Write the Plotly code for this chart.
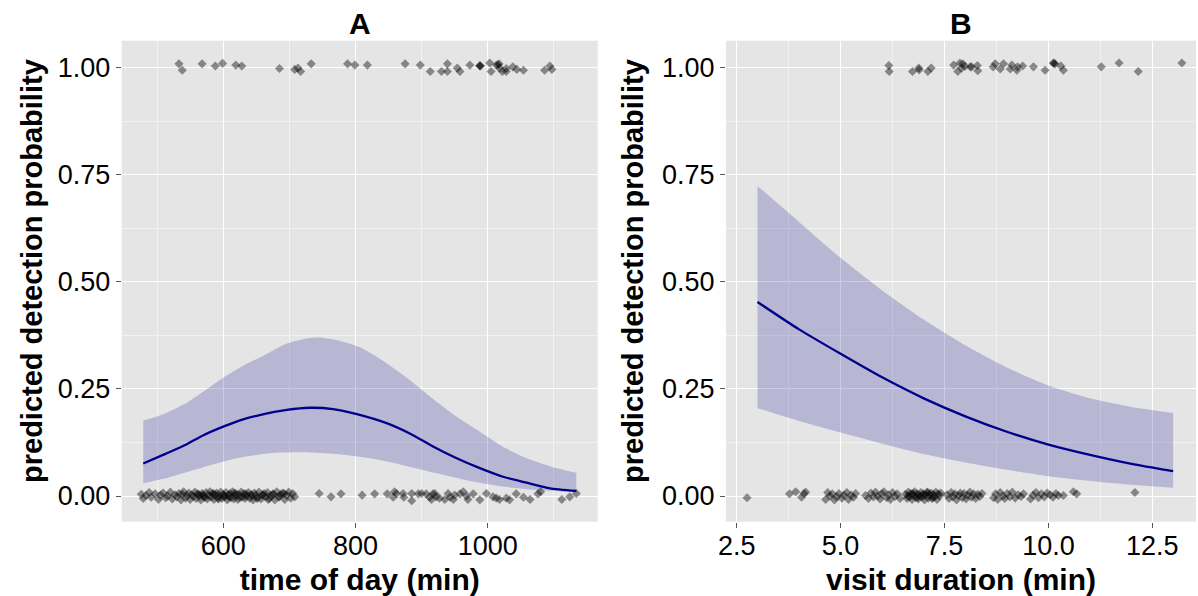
import plotly.graph_objects as go

# ---------------- Panel A data (time of day) ----------------
a_x = [479, 509, 545, 570, 600, 630, 655, 696, 731, 766, 802, 847, 882, 918, 953, 988, 1023, 1059, 1094, 1134]
a_fit = [0.076, 0.096, 0.121, 0.142, 0.162, 0.179, 0.189, 0.201, 0.206, 0.203, 0.191, 0.170, 0.146, 0.115, 0.088, 0.065, 0.045, 0.031, 0.018, 0.012]
a_up_x = [479, 509, 545, 570, 600, 630, 660, 696, 726, 746, 771, 807, 847, 882, 918, 953, 988, 1023, 1059, 1099, 1134]
a_up = [0.176, 0.191, 0.218, 0.244, 0.276, 0.304, 0.327, 0.356, 0.368, 0.370, 0.364, 0.347, 0.310, 0.271, 0.226, 0.185, 0.150, 0.115, 0.088, 0.067, 0.054]
a_lo_x = [479, 519, 570, 620, 671, 721, 771, 822, 872, 923, 973, 1023, 1074, 1134]
a_lo = [0.030, 0.044, 0.067, 0.088, 0.100, 0.102, 0.098, 0.088, 0.072, 0.053, 0.035, 0.022, 0.014, 0.009]

a_pts_one = [(533, 1.009), (538, 0.994), (568, 1.009), (588, 1.004), (599, 1.010), (619, 1.006),
             (628, 1.004), (685, 0.998), (708, 0.996), (713, 0.999), (717, 0.991), (733, 1.009),
             (788, 1.009), (799, 1.006), (818, 1.006), (875, 1.009), (898, 1.006), (913, 0.991),
             (930, 0.991), (939, 0.991), (939, 1.009), (954, 0.999), (958, 0.991), (973, 1.006),
             (988, 1.004), (989, 1.004), (988, 1.005), (1003, 1.011), (1005, 0.991), (1013, 1.006),
             (1017, 1.009), (1018, 0.999), (1016, 1.007), (1022, 0.991), (1028, 0.991), (1028, 0.998),
             (1038, 1.002), (1044, 0.996), (1054, 0.994), (1086, 0.994), (1094, 1.004), (1097, 0.996)]

a_pts_zero = [(476, 0.004), (479, -0.006), (483, 0.001), (488, 0.008), (491, -0.003), (497, 0.005),
              (502, -0.008), (505, 0.002), (509, 0.007), (513, -0.004), (516, 0.000), (520, 0.009),
              (523, -0.007), (527, 0.003), (530, -0.002), (533, 0.006), (536, -0.009), (538, 0.004),
              (540, 0.010), (543, -0.005), (545, 0.001), (548, 0.007), (550, -0.008), (552, 0.003),
              (555, -0.001), (557, 0.009), (559, -0.006), (561, 0.005), (564, 0.000), (566, -0.009),
              (568, 0.006), (569, 0.002), (572, -0.004), (574, 0.008), (576, -0.007), (578, 0.001),
              (580, 0.010), (582, -0.003), (584, 0.005), (586, -0.008), (588, 0.003), (590, 0.007),
              (592, -0.005), (594, 0.000), (596, 0.009), (598, -0.006), (600, 0.004), (602, -0.002),
              (604, 0.008), (606, -0.009), (608, 0.002), (610, 0.006), (612, -0.004), (614, 0.010),
              (616, -0.007), (618, 0.001), (620, 0.005), (622, -0.008), (624, 0.003), (627, 0.009),
              (629, -0.003), (631, 0.006), (633, -0.006), (635, 0.000), (638, 0.008), (640, -0.005),
              (642, 0.004), (645, -0.009), (647, 0.007), (649, 0.002), (652, -0.004), (654, 0.009),
              (657, -0.007), (659, 0.003), (662, 0.006), (664, -0.002), (667, 0.008), (670, -0.006),
              (672, 0.001), (675, 0.005), (678, -0.009), (681, 0.010), (684, -0.003), (687, 0.004),
              (690, 0.007), (693, -0.008), (696, 0.002), (699, 0.009), (702, -0.005), (705, 0.006),
              (708, -0.002), (563, 0.004), (571, -0.001), (585, 0.006), (593, -0.007), (601, 0.001),
              (609, -0.003), (617, 0.007), (625, -0.004), (634, 0.005), (643, 0.000), (651, -0.006),
              (660, 0.002), (668, -0.008), (676, 0.004), (685, -0.001), (692, 0.006),
              (745, 0.006), (763, -0.002), (778, 0.005), (810, 0.002), (829, 0.005), (848, 0.005),
              (857, -0.003), (859, 0.010), (862, 0.006), (872, 0.006), (873, -0.003), (885, 0.006),
              (885, -0.011), (895, 0.005), (900, 0.006), (907, 0.005), (912, -0.003), (915, -0.008),
              (917, 0.005), (920, 0.006), (922, -0.002), (927, -0.005), (935, -0.008), (940, 0.006),
              (943, -0.003), (948, -0.008), (950, 0.002), (958, 0.005), (963, 0.010), (968, 0.000),
              (970, -0.008), (978, 0.005), (988, -0.009), (998, 0.006), (1008, -0.002), (1013, -0.005),
              (1018, -0.008), (1028, -0.005), (1033, -0.009), (1043, 0.005), (1054, -0.003),
              (1064, -0.008), (1076, 0.005), (1080, 0.010), (1112, -0.008), (1124, -0.002), (1134, 0.006)]

# ---------------- Panel B data (visit duration) ----------------
b_x = [3, 4, 5, 6, 7, 8, 9, 10, 11, 12, 13]
b_fit = [0.453, 0.389, 0.332, 0.277, 0.228, 0.186, 0.150, 0.120, 0.096, 0.075, 0.058]
b_up = [0.724, 0.640, 0.556, 0.480, 0.412, 0.352, 0.300, 0.258, 0.228, 0.208, 0.194]
b_lo = [0.205, 0.175, 0.148, 0.122, 0.098, 0.078, 0.061, 0.046, 0.035, 0.026, 0.019]

b_pts_one = [(6.16, 1.005), (6.17, 0.991), (6.73, 0.991), (6.88, 0.999), (6.89, 0.995), (7.10, 0.991),
             (7.18, 0.999), (7.72, 1.006), (7.82, 0.991), (7.87, 1.011), (7.91, 0.999), (7.94, 1.009),
             (7.99, 1.003), (8.12, 1.002), (8.15, 1.002), (8.29, 1.005), (8.30, 0.993), (8.67, 1.002),
             (8.72, 1.009), (8.84, 0.997), (8.92, 1.009), (9.08, 0.997), (9.12, 1.006), (9.24, 0.994),
             (9.26, 1.002), (9.38, 1.004), (9.64, 1.002), (9.92, 0.994), (10.12, 1.011), (10.13, 1.010),
             (10.16, 1.009), (10.30, 1.004), (10.36, 0.994), (11.27, 1.002), (11.70, 1.011),
             (12.16, 0.991), (13.21, 1.011)]

b_pts_zero = [(2.75, -0.004), (3.77, 0.005), (3.92, 0.010), (4.06, -0.003), (4.12, 0.006), (4.16, 0.009),
              (4.64, -0.008), (4.69, 0.008), (4.74, 0.000), (4.80, 0.005), (4.85, -0.009), (4.91, -0.002),
              (4.96, 0.006), (5.03, -0.005), (5.08, 0.002), (5.15, 0.008), (5.19, -0.008), (5.25, 0.002),
              (5.31, -0.003), (5.36, 0.006), (5.60, 0.001), (5.67, -0.006), (5.73, 0.007), (5.79, -0.002),
              (5.84, 0.009), (5.89, 0.000), (5.95, -0.007), (5.99, 0.005), (6.04, 0.010), (6.11, -0.004),
              (6.15, 0.003), (6.20, -0.008), (6.25, 0.008), (6.31, -0.001), (6.36, 0.005), (6.43, -0.006),
              (6.56, 0.004), (6.60, -0.006), (6.63, 0.009), (6.66, -0.002), (6.69, 0.006), (6.72, -0.008),
              (6.75, 0.002), (6.78, 0.010), (6.81, -0.004), (6.84, 0.005), (6.87, -0.007), (6.90, 0.001),
              (6.93, 0.008), (6.96, -0.003), (6.99, 0.006), (7.02, -0.009), (7.05, 0.003), (7.08, 0.009),
              (7.11, -0.005), (7.14, 0.002), (7.17, 0.007), (7.20, -0.006), (7.23, 0.004), (7.26, -0.002),
              (7.29, 0.009), (7.32, -0.008), (7.35, 0.005), (7.38, 0.000), (7.41, 0.007),
              (6.62, 0.000), (6.74, 0.006), (6.86, -0.003), (6.98, 0.002), (7.10, 0.008), (7.22, -0.004),
              (7.56, 0.003), (7.61, -0.006), (7.66, 0.008), (7.70, -0.002), (7.75, 0.005), (7.79, -0.009),
              (7.84, 0.001), (7.88, 0.007), (7.93, -0.004), (7.97, 0.006), (8.02, -0.007), (8.06, 0.002),
              (8.11, 0.009), (8.15, -0.003), (8.20, 0.005), (8.25, -0.006), (8.30, 0.004), (8.35, -0.001),
              (8.40, 0.006), (8.68, -0.004), (8.73, 0.005), (8.78, -0.008), (8.84, 0.008), (8.90, 0.000),
              (8.95, -0.006), (9.01, 0.006), (9.07, -0.002), (9.13, 0.009), (9.20, -0.005), (9.27, 0.003),
              (9.34, -0.001), (9.40, 0.005), (9.57, -0.007), (9.63, 0.002), (9.70, 0.008), (9.76, -0.004),
              (9.83, 0.005), (9.90, -0.002), (9.97, 0.007), (10.04, 0.003), (10.11, -0.003), (10.18, 0.006),
              (10.24, 0.001), (10.36, 0.001), (10.60, 0.010), (10.68, 0.005), (12.08, 0.008)]

a_xticks = [600, 800, 1000]
a_xtick_labels = ["600", "800", "1000"]
b_xticks = [2.5, 5.0, 7.5, 10.0, 12.5]
b_xtick_labels = ["2.5", "5.0", "7.5", "10.0", "12.5"]
y_ticks = [0.00, 0.25, 0.50, 0.75, 1.00]
y_tick_labels = ["0.00", "0.25", "0.50", "0.75", "1.00"]

W, H = 1198, 596
FONT = "Liberation Sans, Arial, sans-serif"
LINE = "#00008B"
RIBBON = "rgba(0,0,139,0.2)"
PT = "rgba(0,0,0,0.42)"

fig = go.Figure()


def add_panel(xa, ya, xs_up, up, xs_lo, lo, xs_fit, fit, pts_sets):
    for pts in pts_sets:
        fig.add_trace(go.Scatter(x=[p[0] for p in pts], y=[p[1] for p in pts], mode="markers",
                                 marker=dict(symbol="diamond", size=7, color=PT, line=dict(width=0)),
                                 xaxis=xa, yaxis=ya, showlegend=False, hoverinfo="skip"))
    # confidence ribbon: lower edge, then upper edge filled down to it
    fig.add_trace(go.Scatter(x=xs_lo, y=lo, mode="lines",
                             line=dict(width=0, shape="spline", smoothing=0.6),
                             xaxis=xa, yaxis=ya, showlegend=False, hoverinfo="skip"))
    fig.add_trace(go.Scatter(x=xs_up, y=up, mode="lines", fill="tonexty", fillcolor=RIBBON,
                             line=dict(width=0, shape="spline", smoothing=0.6),
                             xaxis=xa, yaxis=ya, showlegend=False, hoverinfo="skip"))
    fig.add_trace(go.Scatter(x=xs_fit, y=fit, mode="lines",
                             line=dict(color=LINE, width=2.3, shape="spline", smoothing=0.6),
                             xaxis=xa, yaxis=ya, showlegend=False))


add_panel("x", "y", a_up_x, a_up, a_lo_x, a_lo, a_x, a_fit, [a_pts_zero, a_pts_one])
add_panel("x2", "y2", b_x, b_up, b_x, b_lo, b_x, b_fit, [b_pts_zero, b_pts_one])

ydom = [1 - 521.7 / H, 1 - 40.7 / H]
tickfont = dict(family=FONT, size=27, color="black")
common = dict(showline=False, zeroline=False, ticks="outside", ticklen=5, tickwidth=1, tickcolor="#555555",
              gridcolor="white", gridwidth=1.3, tickfont=tickfont, automargin=False)
minor_style = dict(showgrid=True, gridcolor="#F2F2F2", gridwidth=0.7, ticks="")

yax = dict(common, range=[-0.060, 1.063], tickvals=y_ticks, ticktext=y_tick_labels, domain=ydom,
           minor=dict(minor_style, tickvals=[0.125, 0.375, 0.625, 0.875]))

title_font = dict(family=FONT, size=30, color="black")
ytitle_font = dict(family=FONT, size=29, color="black")
fig.update_layout(
    width=W, height=H, margin=dict(l=0, r=0, t=0, b=0),
    paper_bgcolor="white", plot_bgcolor="#E5E5E5",
    xaxis=dict(common, domain=[121.7 / W, 597.7 / W], range=[446.4, 1166.3], tickvals=a_xticks, ticktext=a_xtick_labels,
               minor=dict(minor_style, tickvals=[500, 700, 900, 1100]), ticklabelstandoff=-5,
               title=dict(text="<b>time of day (min)</b>", font=title_font, standoff=12),
               anchor="y"),
    yaxis=dict(yax, anchor="x"),
    xaxis2=dict(common, domain=[726 / W, 1196 / W], range=[2.243, 13.55], tickvals=b_xticks, ticktext=b_xtick_labels,
                minor=dict(minor_style, tickvals=[3.75, 6.25, 8.75, 11.25]), ticklabelstandoff=-5,
                title=dict(text="<b>visit duration (min)</b>", font=title_font, standoff=12),
                anchor="y2"),
    yaxis2=dict(yax, anchor="x2"),
    annotations=[
        dict(text="<b>A</b>", x=(121.7 + 597.7) / 2 / W, y=1 - 23 / H, xref="paper", yref="paper",
             showarrow=False, font=title_font, xanchor="center", yanchor="middle"),
        dict(text="<b>B</b>", x=(726 + 1196) / 2 / W, y=1 - 23 / H, xref="paper", yref="paper",
             showarrow=False, font=title_font, xanchor="center", yanchor="middle"),
        dict(text="<b>predicted detection probability</b>", x=31.5 / W, y=1 - 271.5 / H, xref="paper", yref="paper",
             textangle=-90, showarrow=False, font=ytitle_font, xanchor="center", yanchor="middle"),
        dict(text="<b>predicted detection probability</b>", x=632.5 / W, y=1 - 271.5 / H, xref="paper", yref="paper",
             textangle=-90, showarrow=False, font=ytitle_font, xanchor="center", yanchor="middle"),
    ],
)

fig.write_html("out.html", config={"displayModeBar": False},
               post_script="document.body.style.margin='0px';document.body.style.overflow='hidden';")
